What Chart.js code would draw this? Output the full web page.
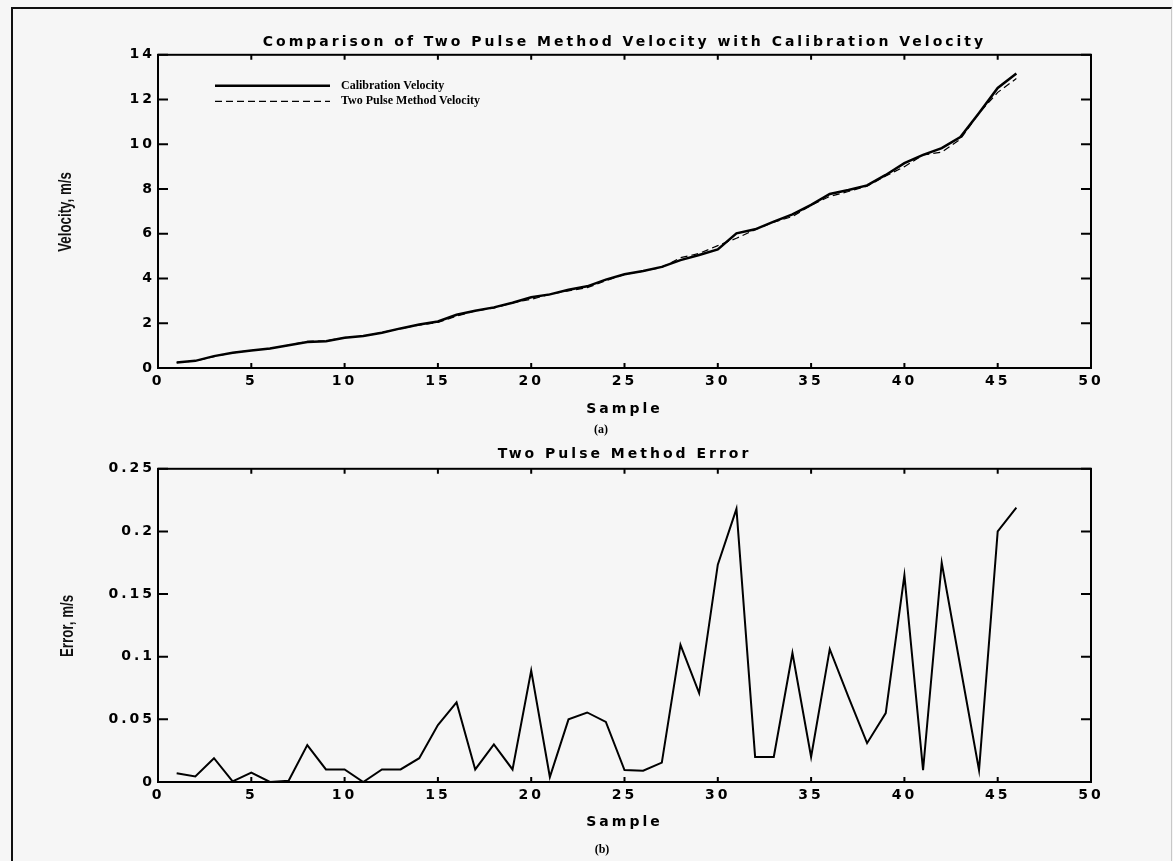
<!DOCTYPE html>
<html>
<head>
<meta charset="utf-8">
<title>Two Pulse Method Velocity</title>
<script src="https://cdn.jsdelivr.net/npm/chart.js@4.4.1/dist/chart.umd.min.js"></script>
<style>
  html, body { margin: 0; padding: 0; background: #f6f6f6; }
  #page { position: relative; width: 1173px; height: 861px; overflow: hidden; }
  .frame {
    position: absolute; left: 11px; top: 7px; width: 1158px; height: 900px;
    border-left: 2px solid #111; border-top: 2px solid #111; border-right: 1px solid #c8c8c8;
  }
  canvas { position: absolute; left: 0; }
  #velChart { top: 0; }
  #errChart { top: 440px; }
  .ytitle {
    position: absolute; width: 140px; line-height: 20px; text-align: center;
    font-family: "Liberation Sans", sans-serif; font-weight: bold;
    font-size: 18px; color: #111;
    transform: rotate(-90deg) scaleX(0.74); white-space: nowrap;
  }
  .sub {
    position: absolute; width: 30px; text-align: center; line-height: 14px;
    font: bold 12px "Liberation Serif", serif; color: #000;
  }
</style>
</head>
<body>
<div id="page">
  <div class="frame"></div>
  <canvas id="velChart" width="1173" height="440"></canvas>
  <canvas id="errChart" width="1173" height="421"></canvas>
  <div class="ytitle" style="left:-5px; top:202px;">Velocity, m/s</div>
  <div class="ytitle" style="left:-3px; top:616px;">Error, m/s</div>
  <div class="sub" style="left:586px; top:422px;">(a)</div>
  <div class="sub" style="left:587px; top:842px;">(b)</div>
</div>
<script>
// sample numbers along the x axis
const samples = [1, 2, 3, 4, 5, 6, 7, 8, 9, 10, 11, 12, 13, 14, 15, 16, 17, 18, 19, 20, 21, 22, 23,
  24, 25, 26, 27, 28, 29, 30, 31, 32, 33, 34, 35, 36, 37, 38, 39, 40, 41, 42, 43, 44, 45, 46];

// velocities in m/s
const calibrationVelocity = [0.25, 0.32, 0.53, 0.68, 0.78, 0.87, 1.02, 1.16, 1.20, 1.35, 1.43, 1.58,
  1.77, 1.94, 2.08, 2.38, 2.56, 2.71, 2.92, 3.16, 3.29, 3.50, 3.65, 3.95, 4.19, 4.34, 4.52, 4.82,
  5.05, 5.30, 6.02, 6.20, 6.54, 6.87, 7.29, 7.78, 7.96, 8.16, 8.63, 9.16, 9.53, 9.83, 10.32, 11.40,
  12.52, 13.16];
const twoPulseVelocity = [0.24, 0.32, 0.51, 0.68, 0.79, 0.87, 1.02, 1.19, 1.21, 1.36, 1.43, 1.59,
  1.76, 1.92, 2.04, 2.32, 2.55, 2.68, 2.91, 3.07, 3.29, 3.45, 3.59, 3.90, 4.18, 4.33, 4.50, 4.93,
  5.12, 5.47, 5.80, 6.18, 6.52, 6.77, 7.27, 7.67, 7.89, 8.13, 8.58, 9.00, 9.52, 9.65, 10.23, 11.39,
  12.32, 12.94];

// absolute difference between the two methods, m/s
const pulseError = [0.007, 0.0045, 0.019, 0.0005, 0.0075, 0, 0.001, 0.0295, 0.010, 0.010, 0, 0.010,
  0.010, 0.019, 0.0455, 0.0635, 0.010, 0.030, 0.010, 0.089, 0.004, 0.050, 0.0555, 0.048, 0.0095,
  0.009, 0.0155, 0.1095, 0.071, 0.1735, 0.218, 0.020, 0.020, 0.103, 0.020, 0.106, 0.068, 0.031,
  0.055, 0.165, 0.0095, 0.175, 0.092, 0.0095, 0.200, 0.219];

// axis ticks
const sampleTicks = [0, 5, 10, 15, 20, 25, 30, 35, 40, 45, 50];
const velocityTicks = [0, 2, 4, 6, 8, 10, 12, 14];
const errorTicks = [0, 0.05, 0.1, 0.15, 0.2, 0.25];
const errorTickLabels = ['0', '0.05', '0.1', '0.15', '0.2', '0.25'];

Chart.defaults.color = '#000';
Chart.defaults.font.family = 'DejaVu Sans';

// wide plotter-style lettering for titles and tick labels
const spacedText = {
    id: 'spacedText',
    beforeDraw(chart) {
        chart.ctx.letterSpacing = '3px';
    }
};

// closed box around the plot with inward tick marks on all four sides
const boxedAxes = {
    id: 'boxedAxes',
    afterDatasetsDraw(chart) {
        const { ctx, chartArea: a, scales: { x, y } } = chart;
        ctx.save();
        ctx.strokeStyle = '#000';
        ctx.lineWidth = 2;
        ctx.strokeRect(a.left, a.top, a.right - a.left, a.bottom - a.top);
        ctx.beginPath();
        y.ticks.forEach(t => {
            const py = y.getPixelForValue(t.value);
            ctx.moveTo(a.left, py);
            ctx.lineTo(a.left + 10, py);
            ctx.moveTo(a.right, py);
            ctx.lineTo(a.right - 10, py);
        });
        x.ticks.forEach(t => {
            const px = x.getPixelForValue(t.value);
            ctx.moveTo(px, a.bottom);
            ctx.lineTo(px, a.bottom - 5);
            ctx.moveTo(px, a.top);
            ctx.lineTo(px, a.top + 5);
        });
        ctx.stroke();
        ctx.restore();
    }
};

// legend drawn inside the upper-left corner of the plot
const insetLegend = {
    id: 'insetLegend',
    afterDatasetsDraw(chart) {
        const { ctx, chartArea: a } = chart;
        ctx.save();
        ctx.letterSpacing = '0px';
        ctx.font = 'bold 12px "Liberation Serif"';
        ctx.textBaseline = 'middle';
        chart.data.datasets.forEach((ds, i) => {
            const ly = a.top + 31 + i * 15.5;
            ctx.strokeStyle = ds.borderColor;
            ctx.lineWidth = ds.borderWidth;
            ctx.setLineDash(ds.borderDash || []);
            ctx.beginPath();
            ctx.moveTo(a.left + 57, ly);
            ctx.lineTo(a.left + 172, ly);
            ctx.stroke();
            ctx.fillStyle = '#000';
            ctx.fillText(ds.label, a.left + 183, ly);
        });
        ctx.restore();
    }
};

const labelFont = { size: 14, weight: 'bold' };

function sampleAxis(axisHeight, titlePad) {
    return {
        type: 'linear',
        min: 0,
        max: 50,
        afterBuildTicks: s => { s.ticks = sampleTicks.map(v => ({ value: v })); },
        afterFit: s => { s.height = axisHeight; },
        grid: { display: false, drawTicks: false },
        border: { display: false },
        ticks: { autoSkip: false, maxRotation: 0, padding: 5, font: labelFont },
        title: {
            display: true,
            text: 'Sample',
            font: labelFont,
            padding: { top: 0, bottom: titlePad }
        }
    };
}

function valueAxis(max, tickValues, labelFor) {
    return {
        type: 'linear',
        min: 0,
        max: max,
        afterBuildTicks: s => { s.ticks = tickValues.map(v => ({ value: v })); },
        afterFit: s => { s.width = 158; },
        grid: { display: false, drawTicks: false },
        border: { display: false },
        ticks: { padding: 3, font: labelFont, callback: labelFor }
    };
}

function plotTitle(text, padTop, padBottom) {
    return {
        display: true,
        text: text,
        fullSize: false,
        font: labelFont,
        padding: { top: padTop, bottom: padBottom }
    };
}

const commonOptions = {
    responsive: false,
    animation: false,
    events: [],
    layout: { padding: { left: 0, right: 82, top: 0, bottom: 0 } }
};

new Chart(document.getElementById('velChart'), {
    type: 'line',
    data: {
        labels: samples,
        datasets: [{
            label: 'Calibration Velocity',
            data: calibrationVelocity,
            borderColor: '#000',
            borderWidth: 2.5,
            pointRadius: 0,
            tension: 0
        }, {
            label: 'Two Pulse Method Velocity',
            data: twoPulseVelocity,
            borderColor: '#000',
            borderWidth: 1.2,
            borderDash: [7, 4],
            pointRadius: 0,
            tension: 0
        }]
    },
    options: {
        ...commonOptions,
        plugins: {
            legend: { display: false },
            tooltip: { enabled: false },
            title: plotTitle('Comparison of Two Pulse Method Velocity with Calibration Velocity', 34, 4)
        },
        scales: {
            x: sampleAxis(72, 22),
            y: valueAxis(14, velocityTicks, v => String(v))
        }
    },
    plugins: [spacedText, boxedAxes, insetLegend]
});

new Chart(document.getElementById('errChart'), {
    type: 'line',
    data: {
        labels: samples,
        datasets: [{
            label: 'Two Pulse Method Error',
            data: pulseError,
            borderColor: '#000',
            borderWidth: 2,
            pointRadius: 0,
            tension: 0
        }]
    },
    options: {
        ...commonOptions,
        plugins: {
            legend: { display: false },
            tooltip: { enabled: false },
            title: plotTitle('Two Pulse Method Error', 6, 6)
        },
        scales: {
            x: sampleAxis(79, 30),
            y: valueAxis(0.25, errorTicks, (v, i) => errorTickLabels[i])
        }
    },
    plugins: [spacedText, boxedAxes]
});
</script>
</body>
</html>
